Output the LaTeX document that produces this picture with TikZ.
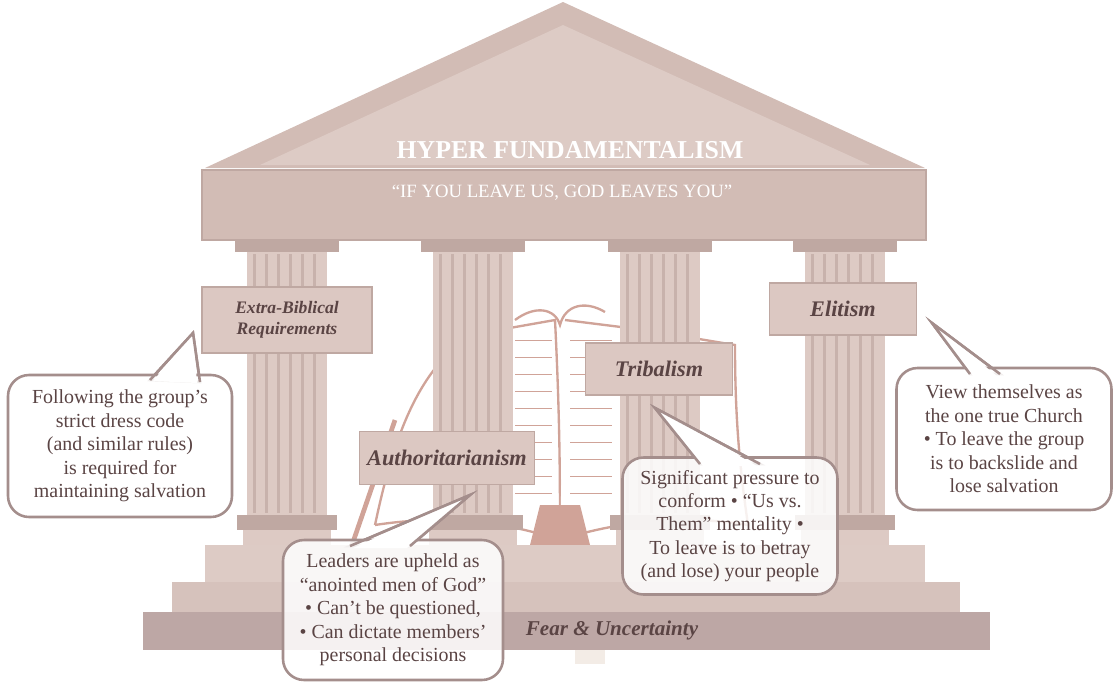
\documentclass[tikz,border=0pt]{standalone}
\usepackage{fontspec}
\setmainfont{Liberation Serif}
\begin{document}
\begin{tikzpicture}[x=0.03cm,y=-0.03cm,
  txt/.style={text=dark,font=\fontsize{17}{20}\selectfont,align=center},
  lbl/.style={fill=labelfill,draw=labeldraw,line width=1.5pt,text=dark,font=\bfseries\itshape\fontsize{15}{18}\selectfont,align=center,inner sep=0pt},
  bub/.style={fill=white,fill opacity=0.85,text opacity=1,draw=bubdraw,line width=2.2pt,rounded corners=18pt}]
\definecolor{dark}{HTML}{5A4444}
\definecolor{labelfill}{HTML}{DCC8C2}
\definecolor{labeldraw}{HTML}{BFA8A2}
\definecolor{bubdraw}{HTML}{A48E8C}
\definecolor{roof}{HTML}{D2BCB5}
\definecolor{roofin}{HTML}{DDCBC5}
\definecolor{col}{HTML}{DDCAC4}
\definecolor{flute}{HTML}{C8B2AC}
\definecolor{stepa}{HTML}{DDCBC5}
\definecolor{stepb}{HTML}{D6C2BC}
\definecolor{stepc}{HTML}{BDA7A5}
\definecolor{book}{HTML}{D0A398}
\definecolor{cream}{HTML}{F3ECE6}
\useasboundingbox (0,0) rectangle (1115,686);
% roof
\fill[roof] (205,168) -- (563,2) -- (925,168) -- cycle;
\fill[roofin] (260,165) -- (563,25) -- (870,165) -- cycle;
% book (simplified)
\begin{scope}[draw=book,line width=2pt]
\draw[fill=white] (375,525) .. controls (395,430) and (420,370) .. (470,335) -- (555,320) .. controls (560,420) and (560,480) .. (560,540) .. controls (500,520) and (440,515) .. (375,525);
\draw[fill=white] (565,320) -- (645,330) -- (735,345) .. controls (735,420) and (740,470) .. (748,525) .. controls (690,515) and (620,520) .. (560,540);
\draw (515,320) .. controls (535,305) and (555,308) .. (560,325) .. controls (565,305) and (585,300) .. (605,312);
\foreach \i in {0,...,9}{
  \draw[line width=0.5pt] (515,340+\i*17) -- (552,340+\i*17);
  \draw[line width=0.5pt] (570,340+\i*17) -- (612,340+\i*17);}
\fill[book] (540,505) -- (580,505) -- (590,545) -- (530,545) -- cycle;
\draw[line width=4pt] (352,545) -- (395,420);
\end{scope}
% columns
\foreach \cx in {287,473,660,845}{
  \fill[col] (\cx-40,252) rectangle (\cx+40,515);
  \foreach \dx in {-34,-22,-10,2,14,26}{
    \fill[flute] (\cx+\dx,254) rectangle (\cx+\dx+3,513);}
  \fill[labeldraw] (\cx-52,240) rectangle (\cx+52,252);
  \fill[labeldraw] (\cx-50,515) rectangle (\cx+50,530);
  \fill[col] (\cx-44,530) rectangle (\cx+44,545);
}
% entablature
\fill[roof,draw=labeldraw,line width=1.5pt] (202,170) rectangle (926,240);
\node[text=white,font=\bfseries\fontsize{22}{24}\selectfont] (title) at (570,150) {HYPER FUNDAMENTALISM};
\node[text=white,font=\fontsize{16}{18}\selectfont] (sub) at (562,193) {“IF YOU LEAVE US, GOD LEAVES YOU”};
% steps
\fill[stepa] (205,545) rectangle (925,582);
\fill[stepb] (172,582) rectangle (960,612);
\fill[stepc] (143,612) rectangle (990,650);
\fill[cream] (575,650) rectangle (605,664);
\node[text=dark,font=\bfseries\itshape\fontsize{18}{20}\selectfont] (fear) at (612,630) {Fear \& Uncertainty};
% labels
\node[lbl,minimum width=170*0.03cm,minimum height=66*0.03cm] (eb) at (287,320) {Extra-Biblical\\Requirements};
\node[lbl,minimum width=175*0.03cm,minimum height=53*0.03cm,font=\bfseries\itshape\fontsize{19}{21}\selectfont] (au) at (447,458) {Authoritarianism};
\node[lbl,minimum width=147*0.03cm,minimum height=52*0.03cm,font=\bfseries\itshape\fontsize{19}{21}\selectfont] (tr) at (659,369) {Tribalism};
\node[lbl,minimum width=147*0.03cm,minimum height=52*0.03cm,font=\bfseries\itshape\fontsize{19}{21}\selectfont] (el) at (843,309) {Elitism};
% bubbles: tails
\coordinate (t1) at (193,333);
\coordinate (t2) at (470,495);
\coordinate (t3) at (655,408);
\coordinate (t4) at (932,323);
\path[bub,rounded corners=0pt] (150,380) -- (t1) -- (200,382) -- cycle;
\path[bub,rounded corners=0pt] (350,546) -- (t2) -- (410,546) -- cycle;
\path[bub,rounded corners=0pt] (700,464) -- (t3) -- (760,464) -- cycle;
\path[bub,rounded corners=0pt] (970,374) -- (t4) -- (1000,374) -- cycle;
% bubbles: bodies
\node[bub,minimum width=224*0.03cm,minimum height=142*0.03cm,txt] (b1) at (120,446) {Following the group's\\strict dress code\\(and similar rules)\\is required for\\maintaining salvation};
\node[bub,minimum width=220*0.03cm,minimum height=140*0.03cm,txt] (b2) at (393,610) {Leaders are upheld as\\“anointed men of God”\\• Can't be questioned,\\• Can dictate members'\\personal decisions};
\node[bub,minimum width=215*0.03cm,minimum height=137*0.03cm,txt] (b3) at (730,526) {Significant pressure to\\conform • “Us vs.\\Them” mentality •\\To leave is to betray\\(and lose) your people};
\node[bub,minimum width=215*0.03cm,minimum height=142*0.03cm,txt] (b4) at (1004,439) {View themselves as\\the one true Church\\• To leave the group\\is to backslide and\\lose salvation};
% cover tail bases
\fill[white] (153,381) -- (t1) -- (197,383) -- cycle;
\fill[white] (353,548) -- (t2) -- (407,548) -- cycle;
\fill[white] (703,466) -- (t3) -- (757,466) -- cycle;
\fill[white] (973,376) -- (t4) -- (997,376) -- cycle;
\draw[bubdraw,line width=2.2pt] (150,380) -- (t1) -- (200,382);
\draw[bubdraw,line width=2.2pt] (350,546) -- (t2) -- (410,546);
\draw[bubdraw,line width=2.2pt] (700,464) -- (t3) -- (760,464);
\draw[bubdraw,line width=2.2pt] (970,374) -- (t4) -- (1000,374);
\end{tikzpicture}
\end{document}
